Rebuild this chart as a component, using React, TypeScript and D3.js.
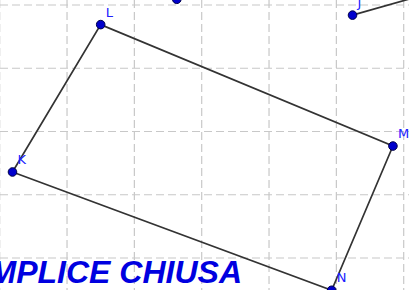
import React, { useEffect, useRef } from "react";
import * as d3 from "d3";

// grid units (GeoGebra-like coordinates)
const gridX = [0, 1, 2, 3, 4, 5, 6];
const gridY = [-1, 0, 1, 2, 3, 4];

const pointNames = ["L", "M", "N", "K", "J", "P", "Q"];
const pointX = [1.5, 5.84, 4.93, 0.19, 5.24, 2.63, 6.3];
const pointY = [3.69, 1.77, -0.51, 1.36, 3.84, 4.09, 4.16];
const labelShown = [true, true, true, true, true, false, false];
const dotShown = [true, true, true, true, true, true, false];

// polygon K L M N and the broken line from J
const closedPath = ["K", "L", "M", "N", "K"];
const openPath = ["J", "Q"];

const title = "MPLICE CHIUSA";

const W = 409,
  H = 290;

const App = () => {
  const svgRef = useRef<SVGSVGElement>(null);

  useEffect(() => {
    const svg = d3.select(svgRef.current);
    svg.selectAll("*").remove();

    const x = d3.scaleLinear().domain([0, 6]).range([-0.3, 403.7]);
    const y = d3.scaleLinear().domain([0, 4]).range([258, 5]);

    const pts = new Map(
      pointNames.map((n, i) => [n, { name: n, x: pointX[i], y: pointY[i], i }])
    );

    const grid = svg.append("g").attr("stroke", "#c8c8c8").attr("stroke-width", 1.2).attr("stroke-dasharray", "8,4");
    grid
      .selectAll("line.v")
      .data(gridX)
      .enter()
      .append("line")
      .attr("x1", (d) => x(d))
      .attr("x2", (d) => x(d))
      .attr("y1", 0)
      .attr("y2", H);
    grid
      .selectAll("line.h")
      .data(gridY)
      .enter()
      .append("line")
      .attr("y1", (d) => y(d))
      .attr("y2", (d) => y(d))
      .attr("x1", 0)
      .attr("x2", W);

    const line = d3
      .line<string>()
      .x((n) => x(pts.get(n)!.x))
      .y((n) => y(pts.get(n)!.y));

    [closedPath, openPath].forEach((p) => {
      svg
        .append("path")
        .attr("d", line(p))
        .attr("fill", "none")
        .attr("stroke", "#333")
        .attr("stroke-width", 1.7);
    });

    svg
      .append("text")
      .attr("x", 242)
      .attr("y", 283)
      .attr("text-anchor", "end")
      .attr("font-family", "Liberation Sans, Arial, sans-serif")
      .attr("font-weight", "bold")
      .attr("font-style", "italic")
      .attr("font-size", 32)
      .attr("fill", "#0000e0")
      .text(title);

    const all = pointNames.map((n) => pts.get(n)!);

    svg
      .selectAll("circle")
      .data(all.filter((d) => dotShown[d.i]))
      .enter()
      .append("circle")
      .attr("cx", (d) => x(d.x))
      .attr("cy", (d) => y(d.y))
      .attr("r", 4.3)
      .attr("fill", "#0000cc")
      .attr("stroke", "#00004a")
      .attr("stroke-width", 1);

    svg
      .selectAll("text.lbl")
      .data(all.filter((d) => labelShown[d.i]))
      .enter()
      .append("text")
      .attr("class", "lbl")
      .attr("x", (d) => x(d.x) + 5)
      .attr("y", (d) => y(d.y) - 8)
      .attr("font-family", "DejaVu Sans, sans-serif")
      .attr("font-size", 13)
      .attr("fill", "#2020ff")
      .text((d) => d.name);
  }, []);

  return (
    <svg
      ref={svgRef}
      width={W}
      height={H}
      style={{ position: "fixed", left: 0, top: 0, background: "#fff" }}
    ></svg>
  );
};

export default App;
